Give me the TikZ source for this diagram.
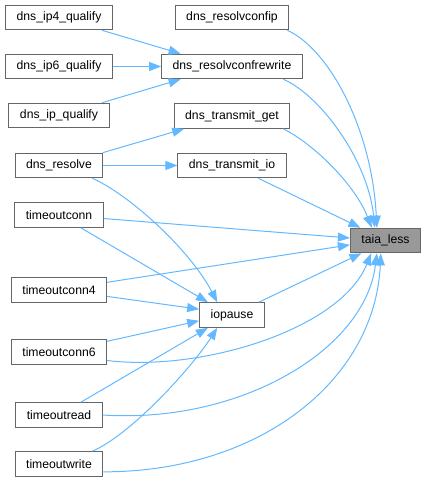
\documentclass[tikz,border=0pt]{standalone}
\usepackage{fontspec}
\setmainfont{Liberation Sans}
\usepackage{xcolor}
\usepackage{tikz}
\usetikzlibrary{arrows.meta}
\definecolor{Frame}{HTML}{666666}
\definecolor{Hit}{HTML}{999999}
\definecolor{Edge}{HTML}{63B8FF}
\tikzset{
  fn/.style={draw=Frame,fill=white,line width=1pt,minimum height=24.6pt,inner xsep=11pt,inner ysep=2pt,font=\fontsize{12.2}{14}\selectfont},
  hit/.style={fn,fill=Hit},
  call/.style={-{Triangle[length=12pt,width=9pt]},line width=1pt,color=Edge}
}

\begin{document}
\begin{tikzpicture}[x=1pt,y=-1pt]
  \useasboundingbox (0,0) rectangle (427,482);
  % callers on the left
  \node[fn] (ipfour) at (59,17.5) {dns\_ip4\_qualify};
  \node[fn] (ipsix) at (59,66.5) {dns\_ip6\_qualify};
  \node[fn] (ipq) at (59,115.5) {dns\_ip\_qualify};
  \node[fn] (resolve) at (59,165.5) {dns\_resolve};
  \node[fn] (tconn) at (59,215) {timeoutconn};
  \node[fn] (tconnfour) at (59,289.7) {timeoutconn4};
  \node[fn] (tconnsix) at (59,352) {timeoutconn6};
  \node[fn] (tread) at (59,415) {timeoutread};
  \node[fn] (twrite) at (59,464) {timeoutwrite};
  % middle column
  \node[fn] (confip) at (232,17.5) {dns\_resolvconfip};
  \node[fn] (confrw) at (232,66.5) {dns\_resolvconfrewrite};
  \node[fn] (txget) at (232,116) {dns\_transmit\_get};
  \node[fn] (txio) at (232,165.5) {dns\_transmit\_io};
  \node[fn] (iopause) at (232,315) {iopause};
  % callee
  \node[hit] (taia) at (385.5,240.5) {taia\_less};

  \draw[call] (ipfour) -- (confrw.166);
  \draw[call] (ipsix) -- (confrw.west);
  \draw[call] (ipq) -- (confrw.194);
  \draw[call] (resolve) -- (txget.195);
  \draw[call] (resolve) -- (txio.west);
  \draw[call] (resolve.-21) .. controls (130,195) and (190,250) .. (iopause.139);

  \draw[call] (confip.-13) .. controls (330,50) and (372,130) .. (taia.124);
  \draw[call] (confrw.-14) .. controls (320,95) and (368,160) .. (taia.130);
  \draw[call] (txget.-14) .. controls (315,145) and (355,185) .. (taia.137);
  \draw[call] (txio) -- (taia.153);

  \draw[call] (tconn) -- (taia.176);
  \draw[call] (tconn) -- (iopause.152);
  \draw[call] (tconnfour) -- (taia.187);
  \draw[call] (tconnfour) -- (iopause.170);
  \draw[call] (iopause) -- (taia.208);
  \draw[call] (tconnsix) -- (iopause.190);
  \draw[call] (tconnsix.-10) .. controls (200,372) and (340,330) .. (taia.222);
  \draw[call] (tread) -- (iopause.208);
  \draw[call] (tread.east) .. controls (240,424) and (365,350) .. (taia.236);
  \draw[call] (twrite.21) .. controls (130,435) and (190,370) .. (iopause.221);
  \draw[call] (twrite.-10) .. controls (260,472) and (375,380) .. (taia.250);
\end{tikzpicture}
\end{document}
